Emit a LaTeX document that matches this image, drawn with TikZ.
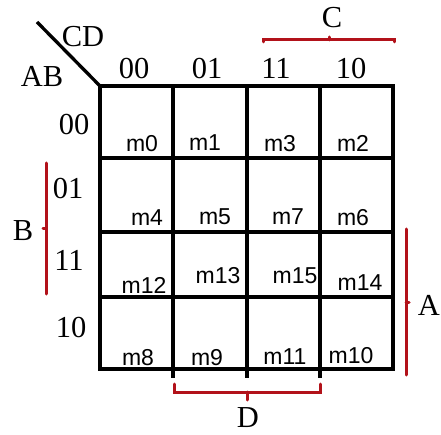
\documentclass[tikz,border=0pt]{standalone}
\usepackage{fontspec}
\setmainfont{Liberation Serif}
\newfontfamily\msans{Liberation Sans}
\begin{document}
\begin{tikzpicture}[x=1pt,y=-1pt,
  grid/.style={line width=3.3pt,black},
  brk/.style={line width=3pt,draw={rgb,255:red,178;green,18;blue,26},line cap=round},
  lab/.style={inner sep=0pt,text depth=0pt,font=\fontsize{30.5}{30.5}\selectfont},
  mlab/.style={inner sep=0pt,text depth=0pt,font=\msans\fontsize{23}{23}\selectfont}]
\useasboundingbox (0,0) rectangle (441,435);
% grid
\coordinate (g00) at (100,86);
\coordinate (g44) at (393,369);
\draw[grid] (g00) rectangle (g44);
\draw[grid] (173,86) -- (173,378);
\draw[grid] (247,86) -- (247,378);
\draw[grid] (320,86) -- (320,378);
\draw[grid] (100,158) -- (393,158);
\draw[grid] (100,232) -- (393,232);
\draw[grid] (100,297) -- (393,297);
\coordinate (dg) at (37,22);
\draw[line width=3.3pt] (dg) -- (g00);
% header labels
\node[lab] (cd) at (83,36) {CD};
\node[lab] (ab) at (42,76) {AB};
\node[lab] (c0) at (134,68) {00};
\node[lab] (c1) at (207,68) {01};
\node[lab] (c2) at (276,68) {11};
\node[lab] (c3) at (351,68) {10};
\node[lab] (r0) at (74,124) {00};
\node[lab] (r1) at (68,188) {01};
\node[lab] (r2) at (69,260) {11};
\node[lab] (r3) at (71,327) {10};
% minterms
\node[mlab] (m0) at (142,143) {m0};
\node[mlab] (m1) at (205,143) {m1};
\node[mlab] (m3) at (280,143) {m3};
\node[mlab] (m2) at (353,143) {m2};
\node[mlab] (m4) at (147,218) {m4};
\node[mlab] (m5) at (215,217) {m5};
\node[mlab] (m7) at (288,217) {m7};
\node[mlab] (m6) at (353,217) {m6};
\node[mlab] (m12) at (144,285) {m12};
\node[mlab] (m13) at (218,275) {m13};
\node[mlab] (m15) at (295,276) {m15};
\node[mlab] (m14) at (360,283) {m14};
\node[mlab] (m8) at (138,357) {m8};
\node[mlab] (m9) at (207,357) {m9};
\node[mlab] (m11) at (285,357) {m11};
\node[mlab] (m10) at (351,355) {m10};
% brackets
\node[lab] (C) at (332,17) {C};
\draw[brk] (263,42) -- (263,40) -- (394,40) -- (394,42);
\draw[brk] (329,40) -- (329,37);
\node[lab] (B) at (23,231) {B};
\draw[brk] (46,163) -- (46,294);
\draw[brk] (46,229) -- (43,229);
\node[lab] (A) at (429,305) {A};
\draw[brk] (406,229) -- (406,375);
\draw[brk] (406,302) -- (409,302);
\node[lab] (D) at (248,418) {D};
\draw[brk] (174,384) -- (174,392) -- (320,392) -- (320,384);
\draw[brk] (247,392) -- (247,400);
\end{tikzpicture}
\end{document}
